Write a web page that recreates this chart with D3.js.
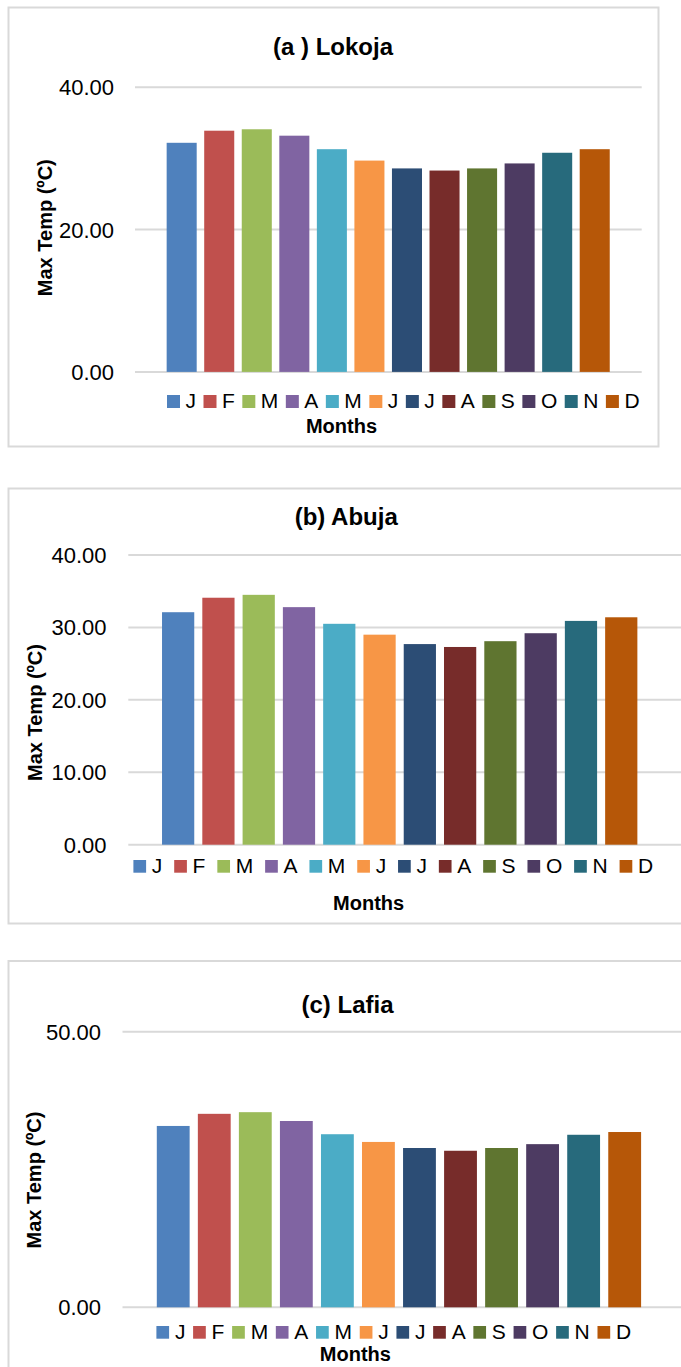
<!DOCTYPE html>
<html>
<head>
<meta charset="utf-8">
<script src="https://cdn.jsdelivr.net/npm/d3@7"></script>
<style>
  html, body { margin: 0; padding: 0; background: #fff; }
  svg { display: block; font-family: "Liberation Sans", Arial, sans-serif; }
</style>
</head>
<body>
<svg id="chart" width="681" height="1367"></svg>
<script>
// Monthly mean maximum temperature (ºC) for three stations
const monthLabels = ["J", "F", "M", "A", "M", "J", "J", "A", "S", "O", "N", "D"];
const monthColors = ["#4F81BD", "#C0504D", "#9BBB59", "#8064A2", "#4BACC6", "#F79646",
                     "#2C4D75", "#772C2A", "#5F7530", "#4D3B62", "#276A7C", "#B65708"];
const lokojaMaxTemp = [32.2, 33.9, 34.1, 33.2, 31.3, 29.7, 28.6, 28.3, 28.6, 29.3, 30.8, 31.3];
const abujaMaxTemp  = [32.1, 34.1, 34.5, 32.8, 30.5, 29.0, 27.7, 27.3, 28.1, 29.2, 30.9, 31.4];
const lafiaMaxTemp  = [32.9, 35.1, 35.4, 33.8, 31.4, 30.0, 28.9, 28.4, 28.9, 29.6, 31.3, 31.8];
const lokojaTicks = [0, 20, 40];
const abujaTicks  = [0, 10, 20, 30, 40];
const lafiaTicks  = [0, 50];
const panelTitles = ["(a ) Lokoja", "(b) Abuja", "(c) Lafia"];
const yAxisTitle = "Max Temp (ºC)";
const xAxisTitle = "Months";

// Per-panel layout
const panels = [
  {
    title: panelTitles[0], values: lokojaMaxTemp, ticks: lokojaTicks, yMax: 40,
    frame: { x: 8.5, y: 7.5, w: 650, h: 439 },
    grid: [135, 641.7], yRange: [371.9, 87.3], xRange: [162.9, 613.5],
    tickX: 114, titleX: 333, titleY: 55, yTitleX: 51.5, yTitleY: 227.7,
    xTitleX: 341.5, xTitleY: 432.5,
    legend: { x: 167, y: 395, size: 13, textGap: 18.5, after: 7.5, baseline: 407.5 }
  },
  {
    title: panelTitles[1], values: abujaMaxTemp, ticks: abujaTicks, yMax: 40,
    frame: { x: 8.5, y: 488.5, w: 700, h: 435 },
    grid: [128.3, 681], yRange: [844.7, 555], xRange: [158, 641.4],
    tickX: 106.5, titleX: 346.2, titleY: 525, yTitleX: 41.5, yTitleY: 712.5,
    xTitleX: 368.6, xTitleY: 909.5,
    legend: { x: 133.4, y: 860, size: 12.7, textGap: 18.4, after: 11.9, baseline: 872.5 }
  },
  {
    title: panelTitles[2], values: lafiaMaxTemp, ticks: lafiaTicks, yMax: 50,
    frame: { x: 8.5, y: 961, w: 700, h: 450 },
    grid: [122.5, 681], yRange: [1307.3, 1031.7], xRange: [152.7, 645.2],
    tickX: 101, titleX: 347.5, titleY: 1013, yTitleX: 40.5, yTitleY: 1180,
    xTitleX: 355.4, xTitleY: 1360.5,
    legend: { x: 156.4, y: 1326, size: 12.7, textGap: 18.5, after: 7.7, baseline: 1339 }
  }
];

const svg = d3.select("#chart");
const fmt = d3.format(".2f");
const idx = monthLabels.map((_, i) => i);

panels.forEach(p => {
  const g = svg.append("g");

  // chart frame
  g.append("rect")
    .attr("x", p.frame.x).attr("y", p.frame.y)
    .attr("width", p.frame.w).attr("height", p.frame.h)
    .attr("fill", "#fff").attr("stroke", "#d9d9d9").attr("stroke-width", 2);

  const x = d3.scaleBand().domain(idx).range(p.xRange).paddingInner(0.2).paddingOuter(0.1);
  const y = d3.scaleLinear().domain([0, p.yMax]).range(p.yRange);

  // horizontal gridlines
  g.append("g").selectAll("line").data(p.ticks).join("line")
    .attr("x1", p.grid[0]).attr("x2", p.grid[1])
    .attr("y1", d => y(d)).attr("y2", d => y(d))
    .attr("stroke", "#d9d9d9").attr("stroke-width", 2);

  // y tick labels
  g.append("g").selectAll("text").data(p.ticks).join("text")
    .attr("x", p.tickX).attr("y", d => y(d)).attr("dy", "0.36em")
    .attr("text-anchor", "end").attr("font-size", 22).attr("fill", "#000")
    .text(d => fmt(d));

  // bars
  g.append("g").selectAll("rect").data(p.values).join("rect")
    .attr("x", (d, i) => x(i)).attr("width", x.bandwidth())
    .attr("y", d => y(d)).attr("height", d => y(0) - y(d))
    .attr("fill", (d, i) => monthColors[i]);

  // title
  g.append("text")
    .attr("x", p.titleX).attr("y", p.titleY).attr("text-anchor", "middle")
    .attr("font-size", 24).attr("font-weight", "bold").text(p.title);

  // y axis title
  g.append("text")
    .attr("transform", `translate(${p.yTitleX},${p.yTitleY}) rotate(-90)`)
    .attr("text-anchor", "middle").attr("font-size", 20).attr("font-weight", "bold")
    .text(yAxisTitle);

  // x axis title
  g.append("text")
    .attr("x", p.xTitleX).attr("y", p.xTitleY).attr("text-anchor", "middle")
    .attr("font-size", 20).attr("font-weight", "bold").text(xAxisTitle);

  // legend (flowing row of swatches and labels)
  const L = p.legend;
  let cx = L.x;
  monthLabels.forEach((lab, i) => {
    g.append("rect")
      .attr("x", cx).attr("y", L.y).attr("width", L.size).attr("height", L.size)
      .attr("fill", monthColors[i]);
    const t = g.append("text")
      .attr("x", cx + L.textGap).attr("y", L.baseline)
      .attr("font-size", 21).attr("fill", "#000").text(lab);
    cx += L.textGap + t.node().getComputedTextLength() + L.after;
  });
});
</script>
</body>
</html>
